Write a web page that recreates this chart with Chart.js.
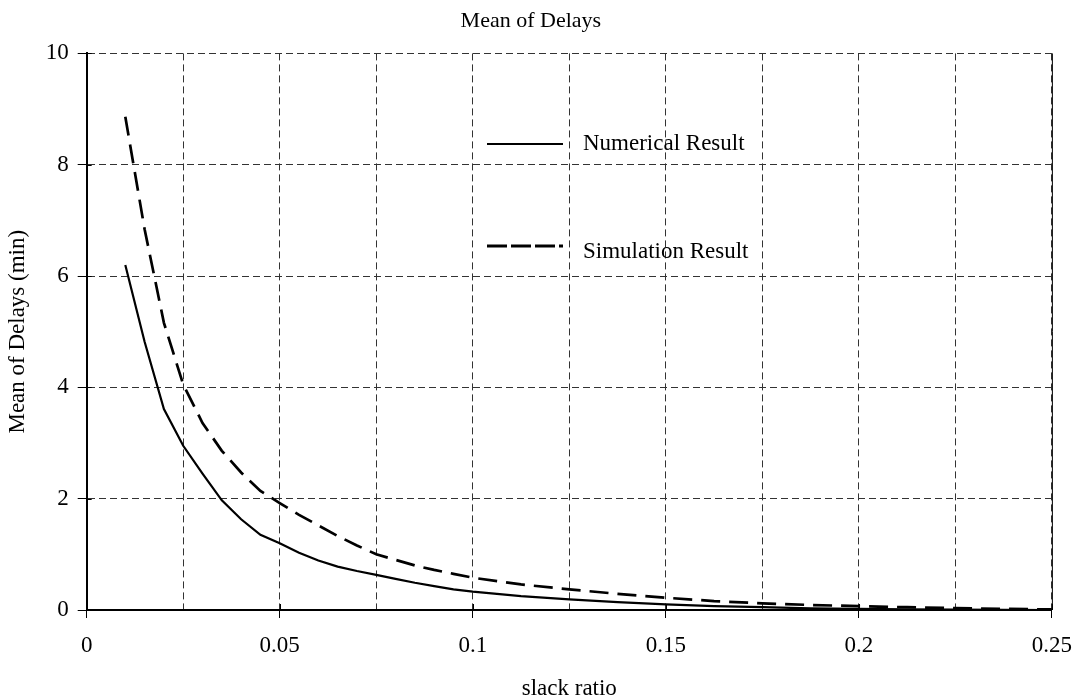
<!DOCTYPE html>
<html>
<head>
<meta charset="utf-8">
<script src="https://cdn.jsdelivr.net/npm/chart.js@4.4.1/dist/chart.umd.min.js"></script>
<style>
  html, body { margin: 0; padding: 0; background: #fff; }
  #wrap { width: 1086px; height: 700px; position: relative; }
</style>
</head>
<body>
<div id="wrap"><canvas id="c" width="1086" height="700"></canvas></div>
<script>
// ---- data ----
const chartTitle = 'Mean of Delays';
const xAxisTitle = 'slack ratio';
const yAxisTitle = 'Mean of Delays (min)';
const seriesNames = ['Numerical Result', 'Simulation Result'];

const slackRatio = [0.01, 0.015, 0.02, 0.025, 0.03, 0.035, 0.04, 0.045, 0.05, 0.055,
  0.06, 0.065, 0.07, 0.075, 0.08, 0.085, 0.09, 0.095, 0.1, 0.1125, 0.125, 0.1375,
  0.15, 0.1625, 0.175, 0.1875, 0.2, 0.2125, 0.225, 0.2375, 0.25];
const numericalResult = [6.2, 4.82, 3.61, 2.95, 2.45, 1.97, 1.63, 1.35, 1.2, 1.03,
  0.89, 0.78, 0.7, 0.63, 0.56, 0.49, 0.43, 0.37, 0.33, 0.25, 0.19, 0.14,
  0.1, 0.07, 0.05, 0.03, 0.02, 0.012, 0.006, 0.003, 0];
const simulationResult = [8.86, 6.84, 5.16, 4.05, 3.36, 2.86, 2.47, 2.14, 1.92, 1.71,
  1.52, 1.33, 1.16, 1.0, 0.9, 0.8, 0.72, 0.65, 0.58, 0.46, 0.37, 0.29,
  0.22, 0.16, 0.12, 0.09, 0.07, 0.05, 0.035, 0.02, 0.01];

const xGridValues = [0, 0.025, 0.05, 0.075, 0.1, 0.125, 0.15, 0.175, 0.2, 0.225, 0.25];
const xTickLabels = ['0', '', '0.05', '', '0.1', '', '0.15', '', '0.2', '', '0.25'];
const yTickValues = [0, 2, 4, 6, 8, 10];
const yTickLabels = ['0', '2', '4', '6', '8', '10'];

// ---- chart ----
const FONT = 'Liberation Serif';
const toXY = (ys) => slackRatio.map((x, i) => ({ x: x, y: ys[i] }));

const framePlugin = {
  id: 'frame',
  afterDraw(chart) {
    const { ctx, chartArea: a, scales } = chart;
    ctx.save();
    ctx.strokeStyle = '#000';
    ctx.setLineDash([]);
    // right border (solid)
    ctx.lineWidth = 1;
    ctx.beginPath();
    ctx.moveTo(a.right + 0.5, a.top);
    ctx.lineTo(a.right + 0.5, a.bottom);
    ctx.stroke();
    // inner parts of the crossing tick marks
    ctx.beginPath();
    xGridValues.forEach((v, i) => {
      if (xTickLabels[i] === '') return;
      const px = Math.round(scales.x.getPixelForValue(v)) + 0.5;
      ctx.moveTo(px, a.bottom);
      ctx.lineTo(px, a.bottom - 6);
    });
    yTickValues.forEach((v) => {
      const py = Math.round(scales.y.getPixelForValue(v)) + 0.5;
      ctx.moveTo(a.left, py);
      ctx.lineTo(a.left + 5, py);
    });
    ctx.stroke();

    // in-plot legend
    const items = [
      { name: seriesNames[0], y: 144, dash: [], w: 2.2, ty: 150 },
      { name: seriesNames[1], y: 246, dash: [20, 4], w: 3, ty: 258 }
    ];
    ctx.font = '23px "' + FONT + '"';
    ctx.fillStyle = '#000';
    ctx.textAlign = 'left';
    ctx.textBaseline = 'alphabetic';
    items.forEach(it => {
      ctx.beginPath();
      ctx.setLineDash(it.dash);
      ctx.lineWidth = it.w;
      ctx.moveTo(487, it.y);
      ctx.lineTo(563, it.y);
      ctx.stroke();
      ctx.fillText(it.name, 583, it.ty);
    });
    ctx.restore();
  }
};

new Chart(document.getElementById('c'), {
  type: 'scatter',
  data: {
    datasets: [
      {
        label: seriesNames[0],
        data: toXY(numericalResult),
        showLine: true,
        borderColor: '#000',
        borderWidth: 2.2,
        pointRadius: 0,
        tension: 0,
        fill: false
      },
      {
        label: seriesNames[1],
        data: toXY(simulationResult),
        showLine: true,
        borderColor: '#000',
        borderWidth: 2.7,
        borderDash: [19, 9],
        pointRadius: 0,
        tension: 0,
        fill: false
      }
    ]
  },
  options: {
    responsive: false,
    animation: false,
    devicePixelRatio: 1,
    layout: { padding: { left: 0, right: 24.3, top: 0, bottom: 0 } },
    plugins: {
      legend: { display: false },
      tooltip: { enabled: false },
      title: {
        display: true,
        text: chartTitle,
        color: '#000',
        font: { family: FONT, size: 22, weight: 'normal', lineHeight: 1.2 },
        padding: { top: 8, bottom: 19 }
      }
    },
    scales: {
      x: {
        type: 'linear',
        min: 0,
        max: 0.25,
        afterBuildTicks: (s) => { s.ticks = xGridValues.map(v => ({ value: v })); },
        afterFit: (s) => { s.height = 90; },
        ticks: {
          autoSkip: false,
          maxRotation: 0,
          padding: 14,
          color: '#000',
          font: { family: FONT, size: 23 },
          callback: (v, i) => xTickLabels[i]
        },
        grid: {
          color: '#333',
          lineWidth: 1,
          drawTicks: true,
          tickLength: 8,
          tickColor: (c) => (c.index % 2 === 0 ? '#000' : 'rgba(0,0,0,0)'),
          tickWidth: 1
        },
        border: { display: true, color: '#000', width: 2, dash: [7, 4] },
        title: {
          display: true,
          text: xAxisTitle,
          color: '#000',
          font: { family: FONT, size: 23, lineHeight: 1.0 },
          padding: { top: 0, bottom: 0 }
        }
      },
      y: {
        type: 'linear',
        min: 0,
        max: 10,
        afterBuildTicks: (s) => { s.ticks = yTickValues.map(v => ({ value: v })); },
        afterFit: (s) => { s.width = 86.7; },
        ticks: {
          padding: 9,
          color: '#000',
          font: { family: FONT, size: 23 },
          callback: (v, i) => yTickLabels[i]
        },
        grid: {
          color: '#333',
          lineWidth: 1,
          drawTicks: true,
          tickLength: 9,
          tickColor: '#000',
          tickWidth: 1
        },
        border: { display: true, color: '#000', width: 2, dash: [7, 4] },
        title: {
          display: true,
          text: yAxisTitle,
          color: '#000',
          font: { family: FONT, size: 23, lineHeight: 1.2 },
          padding: { top: 4, bottom: 0 }
        }
      }
    }
  },
  plugins: [framePlugin]
});
</script>
</body>
</html>
